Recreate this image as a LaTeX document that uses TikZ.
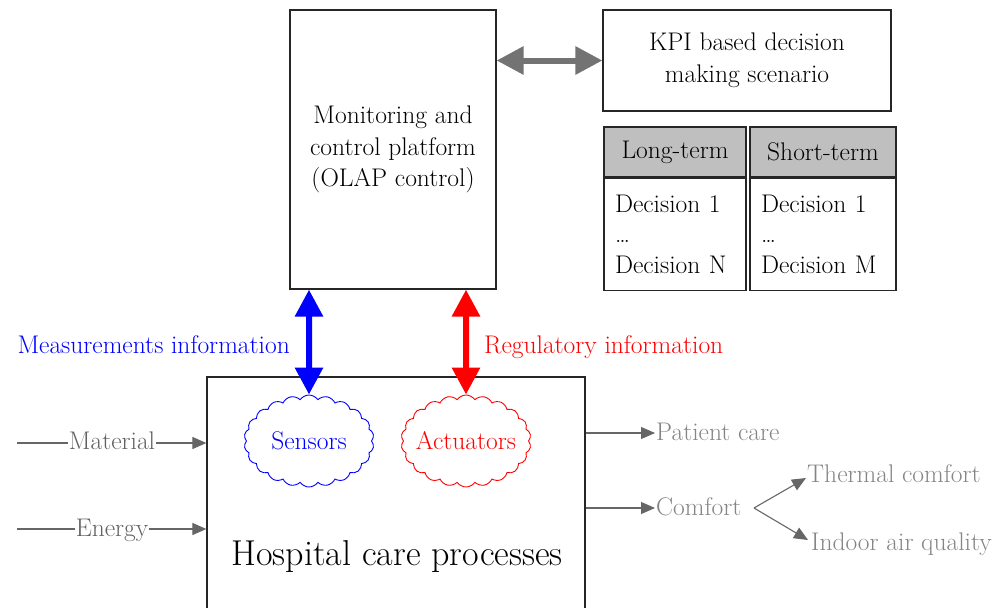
\documentclass[tikz,border=0pt]{standalone}
\usetikzlibrary{arrows.meta, shapes.symbols, calc}

\begin{document}
\begin{tikzpicture}[x=1pt, y=-1pt,
	every node/.style={font=\fontsize{25.5}{31.5}\selectfont},
	box/.style={draw=black!85, line width=1.2pt, align=center, inner sep=0pt},
	flowtext/.style={text=black!62, inner xsep=1pt, inner ysep=0pt, anchor=base},
	outtext/.style={flowtext, text=black!48, anchor=base west},
	flowline/.style={draw=black!60, line width=1.1pt},
	flow/.style={flowline, -{Triangle[length=14pt, width=12pt]}},
	bigarrow/.style={line width=6pt, {Triangle[length=27pt, width=27pt]}-{Triangle[length=27pt, width=27pt]}},
	puff/.style={cloud, cloud puffs=22, cloud puff arc=110, aspect=1.4, draw, line width=0.9pt, inner sep=-12pt, minimum width=130pt, minimum height=92pt}]
	\useasboundingbox (0,0) rectangle (1005,608);

	\node[box, minimum width=206pt, minimum height=279pt] (mon) at (393,149.5) {Monitoring and\\control platform\\(OLAP control)};
	\node[box, minimum width=288pt, minimum height=101pt, font=\fontsize{25.5}{32}\selectfont] (kpi) at (747,60.5) {KPI based decision\\making scenario};
	\node[box, fill=black!25, minimum width=142pt, minimum height=50pt] (lthead) at (675,152) {Long-term};
	\node[box, anchor=north, text width=120pt, inner xsep=11pt, minimum height=112pt, align=left, font=\fontsize{25.5}{30.5}\selectfont] (ltbody) at (lthead.south) {Decision 1\\\ldots\\Decision N};
	\node[box, fill=black!25, minimum width=146pt, minimum height=50pt] (sthead) at (823,152) {Short-term};
	\node[box, anchor=north, text width=124pt, inner xsep=11pt, minimum height=112pt, align=left, font=\fontsize{25.5}{30.5}\selectfont] (stbody) at (sthead.south) {Decision 1\\\ldots\\Decision M};

	\node[box, minimum width=378pt, minimum height=263pt] (hosp) at (396,508.5) {};
	\node[font=\fontsize{36}{40}\selectfont] (hosptext) at (397,557) {Hospital care processes};
	\node[puff, draw=blue, text=blue] (sens) at (309,441) {Sensors};
	\node[puff, draw=red, text=red] (act) at (466,441) {Actuators};

	\node[text=blue, anchor=base east, inner sep=0pt] (meas) at (290,353) {Measurements information};
	\node[text=red, anchor=base west, inner sep=0pt] (reg) at (484,353) {Regulatory information};
	\draw[bigarrow, blue] (mon.south -| sens) -- (sens.north);
	\draw[bigarrow, red] (mon.south -| act) -- (act.north);
	\draw[bigarrow, black!55] (mon.east |- kpi) -- (kpi.west);

	\coordinate (matin) at (17,443);
	\node[flowtext] (mat) at (112,449) {Material};
	\draw[flowline] (matin) -- (matin -| mat.west);
	\draw[flow] (matin -| mat.east) -- (matin -| hosp.west);
	\coordinate (enin) at (17,529);
	\node[flowtext] (en) at (112,536) {Energy};
	\draw[flowline] (enin) -- (enin -| en.west);
	\draw[flow] (enin -| en.east) -- (enin -| hosp.west);

	\node[outtext] (pat) at (655,440) {Patient care};
	\draw[flow] (hosp.east |- 0,433) -- (pat.west |- 0,433);
	\node[outtext] (comf) at (655,515) {Comfort};
	\draw[flow] (hosp.east |- 0,508) -- (comf.west |- 0,508);
	\coordinate (fork) at (754,508);
	\node[outtext] (therm) at (806,482) {Thermal comfort};
	\node[outtext] (indoor) at (810,550) {Indoor air quality};
	\draw[flow] (fork) -- ([yshift=4pt]therm.base west);
	\draw[flow] (fork) -- ([shift={(-2pt,10pt)}]indoor.base west);
\end{tikzpicture}
\end{document}
